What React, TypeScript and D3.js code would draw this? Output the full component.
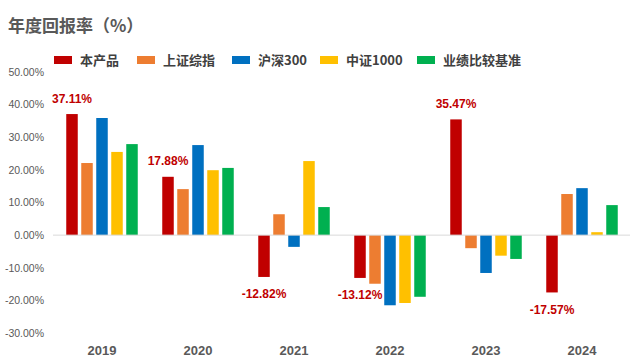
import React from "react";
import * as d3 from "d3";

const years = ["2019", "2020", "2021", "2022", "2023", "2024"];
const seriesNames = ["本产品", "上证综指", "沪深300", "中证1000", "业绩比较基准"];
const seriesColors = ["#C00000", "#ED7D31", "#0070C0", "#FFC000", "#00B050"];
const product = [37.11, 17.88, -12.82, -13.12, 35.47, -17.57];
const shIndex = [22.1, 14.1, 6.4, -14.9, -4.0, 12.6];
const hs300 = [35.9, 27.6, -3.6, -21.5, -11.6, 14.4];
const zz1000 = [25.5, 19.9, 22.7, -20.8, -6.3, 0.9];
const benchmark = [27.9, 20.6, 8.6, -18.9, -7.3, 9.2];
const yTicks = [-30, -20, -10, 0, 10, 20, 30, 40, 50];

const allSeries = [product, shIndex, hs300, zz1000, benchmark];

export default function App() {
  const W = 640, H = 360;
  const x0 = d3.scaleBand<string>().domain(years).range([54, 630]).paddingInner(0).paddingOuter(0);
  const groupW = 71.5;
  const x1 = d3.scaleBand<string>().domain(seriesNames).range([0, groupW]).paddingInner(0.233).paddingOuter(0);
  const y = d3.scaleLinear().domain([-30, 50]).range([333, 72]);
  const fmt = (v: number) => v.toFixed(2) + "%";
  const legendX = [54, 137, 232, 320, 417];

  return (
    <svg width={W} height={H} style={{ position: "absolute", left: 0, top: 0, background: "#fff" }}>
      <text x={8} y={32} fontSize={17} fontWeight="bold" fill="#595959" fontFamily="'Noto Sans CJK SC', sans-serif">
        年度回报率（%）
      </text>
      {seriesNames.map((s, i) => (
        <g key={s}>
          <rect x={legendX[i]} y={56} width={18} height={8} fill={seriesColors[i]} />
          <text x={legendX[i] + 26} y={64.5} fontSize={13} fontWeight="bold" fill="#404040" fontFamily="'Noto Sans CJK SC', sans-serif">
            {s}
          </text>
        </g>
      ))}
      {yTicks.map((t) => (
        <text key={t} x={44} y={y(t) + 3.8} fontSize={10.5} textAnchor="end" fill="#595959" fontFamily="'Liberation Sans', Arial, sans-serif">
          {fmt(t)}
        </text>
      ))}
      {years.map((yr, yi) => {
        const gx = (x0(yr) as number) + (x0.bandwidth() - groupW) / 2;
        return (
          <g key={yr}>
            {allSeries.map((arr, si) => {
              const v = arr[yi];
              const bx = gx + (x1(seriesNames[si]) as number);
              return (
                <rect key={si} x={bx} y={Math.min(y(v), y(0))} width={x1.bandwidth()} height={Math.abs(y(v) - y(0))} fill={seriesColors[si]} />
              );
            })}
          </g>
        );
      })}
      <line x1={53} x2={630} y1={y(0)} y2={y(0)} stroke="#D9D9D9" strokeWidth={1} />
      {years.map((yr, yi) => {
        const gx = (x0(yr) as number) + (x0.bandwidth() - groupW) / 2;
        const cx = gx + (x1(seriesNames[0]) as number) + x1.bandwidth() / 2;
        const v = product[yi];
        const ty = v >= 0 ? y(v) - 11.5 : y(v) + 21.5;
        return (
          <text key={yr} x={cx} y={ty} fontSize={12} fontWeight="bold" textAnchor="middle" fill="#C00000" fontFamily="'Liberation Sans', Arial, sans-serif">
            {fmt(v)}
          </text>
        );
      })}
      {years.map((yr) => (
        <text key={yr} x={(x0(yr) as number) + x0.bandwidth() / 2} y={355} fontSize={13} fontWeight="bold" textAnchor="middle" fill="#595959" fontFamily="'Liberation Sans', Arial, sans-serif">
          {yr}
        </text>
      ))}
    </svg>
  );
}
